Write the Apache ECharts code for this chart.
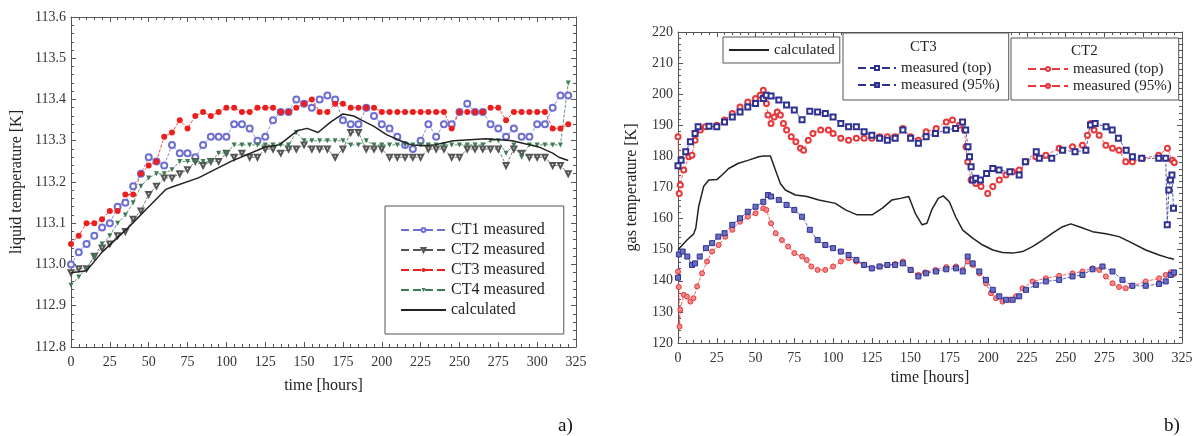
<!DOCTYPE html>
<html lang="en">
<head>
<meta charset="UTF-8">
<title>Liquid and gas temperature</title>
<script src="https://cdn.jsdelivr.net/npm/echarts@6.0.0/dist/echarts.min.js"></script>
<style>
  html, body { margin: 0; padding: 0; background: #fff; }
  #chart { width: 1196px; height: 436px; }
</style>
</head>
<body>
<div id="chart"></div>
<script>
// ---- panel a) liquid temperature, read every 5 hours ----
const hoursA = [0, 5, 10, 15, 20, 25, 30, 35, 40, 45,
  50, 55, 60, 65, 70, 75, 80, 85, 90, 95,
  100, 105, 110, 115, 120, 125, 130, 135, 140, 145,
  150, 155, 160, 165, 170, 175, 180, 185, 190, 195,
  200, 205, 210, 215, 220, 225, 230, 235, 240, 245,
  250, 255, 260, 265, 270, 275, 280, 285, 290, 295,
  300, 305, 310, 315, 320];
const ct1Liquid = [113.00, 113.03, 113.05, 113.07, 113.09, 113.10, 113.14, 113.15, 113.19, 113.22,
  113.26, 113.25, 113.24, 113.29, 113.27, 113.27, 113.26, 113.29, 113.31, 113.31,
  113.31, 113.34, 113.34, 113.33, 113.30, 113.31, 113.35, 113.37, 113.37, 113.40,
  113.39, 113.38, 113.40, 113.41, 113.40, 113.35, 113.34, 113.34, 113.38, 113.36,
  113.34, 113.33, 113.31, 113.29, 113.28, 113.30, 113.34, 113.31, 113.34, 113.34,
  113.37, 113.39, 113.37, 113.37, 113.34, 113.33, 113.31, 113.33, 113.31, 113.31,
  113.34, 113.34, 113.38, 113.41, 113.41];
const ct2Liquid = [112.98, 112.99, 112.99, 113.02, 113.04, 113.05, 113.07, 113.08, 113.11, 113.13,
  113.17, 113.19, 113.21, 113.21, 113.22, 113.23, 113.25, 113.24, 113.25, 113.25,
  113.27, 113.26, 113.27, 113.26, 113.26, 113.28, 113.28, 113.27, 113.28, 113.28,
  113.29, 113.28, 113.28, 113.28, 113.26, 113.28, 113.32, 113.32, 113.28, 113.28,
  113.28, 113.26, 113.26, 113.26, 113.26, 113.26, 113.28, 113.28, 113.28, 113.26,
  113.26, 113.28, 113.28, 113.28, 113.28, 113.28, 113.24, 113.28, 113.27, 113.26,
  113.26, 113.26, 113.24, 113.24, 113.22];
const ct3Liquid = [113.05, 113.07, 113.10, 113.10, 113.11, 113.13, 113.13, 113.17, 113.17, 113.22,
  113.24, 113.25, 113.31, 113.32, 113.35, 113.33, 113.36, 113.37, 113.36, 113.37,
  113.38, 113.38, 113.37, 113.37, 113.38, 113.38, 113.38, 113.37, 113.37, 113.38,
  113.39, 113.40, 113.37, 113.37, 113.39, 113.39, 113.38, 113.38, 113.38, 113.38,
  113.37, 113.37, 113.37, 113.37, 113.37, 113.37, 113.37, 113.37, 113.37, 113.33,
  113.37, 113.37, 113.37, 113.37, 113.38, 113.38, 113.35, 113.37, 113.37, 113.37,
  113.37, 113.37, 113.33, 113.33, 113.34];
const ct4Liquid = [112.95, 112.97, 112.99, 113.02, 113.05, 113.07, 113.10, 113.12, 113.15, 113.19,
  113.21, 113.22, 113.22, 113.23, 113.25, 113.25, 113.25, 113.25, 113.25, 113.27,
  113.27, 113.29, 113.29, 113.29, 113.29, 113.29, 113.29, 113.29, 113.29, 113.32,
  113.30, 113.30, 113.30, 113.30, 113.30, 113.30, 113.29, 113.29, 113.30, 113.29,
  113.29, 113.29, 113.29, 113.29, 113.29, 113.29, 113.29, 113.29, 113.29, 113.29,
  113.29, 113.29, 113.29, 113.29, 113.30, 113.30, 113.27, 113.29, 113.26, 113.29,
  113.29, 113.29, 113.29, 113.29, 113.44];
const calcLiquidHours = [0, 10, 20, 37, 50, 61, 65, 82, 103, 125,
  134, 146, 152, 159, 167, 175, 182, 187, 195, 203,
  212, 219, 226, 234, 246, 254, 267, 284, 301, 310,
  314, 320];
const calcLiquid = [112.98, 112.985, 113.03, 113.09, 113.14, 113.182, 113.188, 113.21, 113.25, 113.285,
  113.29, 113.325, 113.33, 113.32, 113.345, 113.365, 113.36, 113.35, 113.335, 113.315,
  113.30, 113.29, 113.288, 113.29, 113.30, 113.302, 113.305, 113.30, 113.285, 113.27,
  113.26, 113.252];

// ---- panel b) gas temperature ----
const calcGasHours = [0, 5.8, 10, 11.5, 13.3, 16.5, 19.8, 25.2, 28.4, 32.7,
  39, 45.6, 52, 55.3, 59.6, 62.8, 66, 69.2, 75.7, 83.2,
  90.8, 101.5, 108, 115.5, 125.2, 131.6, 138, 143.4, 148.8, 153,
  157.4, 160.5, 163.6, 167.8, 171, 175, 179, 183.6, 190, 196.5,
  203, 209.3, 215.8, 222.2, 228.6, 235.1, 241.5, 248, 253.3, 258.7,
  267.3, 275.9, 284.4, 293, 301.6, 310.2, 316.6, 319.8];
const calcGas = [150, 153.1, 155, 157, 163.8, 170.3, 172.4, 172.6, 174, 176.1,
  177.8, 178.8, 179.9, 180.1, 180.1, 175.6, 171.3, 169.2, 167.6, 167.1,
  166, 164.9, 162.8, 161.2, 161.2, 163.3, 166, 166.5, 167.1, 161.7,
  158, 158.5, 162.8, 166.5, 167.3, 165.4, 160.6, 156.3, 153.7, 151.5,
  149.9, 149.1, 148.9, 149.4, 151, 153.1, 155.3, 157.4, 158.3, 157.4,
  155.8, 155.1, 154.2, 152.1, 149.9, 148.3, 147.3, 146.9];

const ct3TopHours = [0, 2, 5, 8, 11, 13, 20, 25, 30, 35,
  40, 45, 50, 55, 57, 60, 65, 70, 75, 80,
  85, 90, 95, 100, 105, 110, 115, 120, 125, 130,
  135, 140, 145, 150, 155, 160, 166, 173, 179, 183.5,
  185.5, 187, 188, 189, 190, 192, 195, 199, 203, 207,
  214, 220, 224, 231, 233, 241, 248, 256, 263, 266,
  269, 276, 280, 284, 289, 293, 299, 310, 314.5, 315.5,
  316.5, 317.5, 318.5, 319.5];
const ct3TopGas = [177, 178.8, 181.5, 184.7, 187.4, 189.5, 189.7, 189.5, 191.1, 192.7,
  194.3, 195.9, 197, 198.6, 199.7, 199.4, 198.1, 196.5, 194.9, 191.8,
  194.5, 194.3, 193.8, 192.7, 190.6, 189.5, 189.5, 187.9, 186.8, 185.8,
  185.2, 185.8, 188.5, 185.8, 184.2, 186.3, 187.4, 188.5, 189, 191.1,
  188.5, 183.1, 179.9, 176.7, 172.4, 173, 172.4, 174.5, 176.1, 175.6,
  175.1, 174, 178.3, 181.5, 179.4, 179.4, 182, 181.5, 182, 190.1,
  190.6, 189.5, 188.5, 185.8, 182, 179.9, 179.4, 179.4, 179.4, 158,
  169.2, 172.4, 174, 163.3];

const ct3LowHours = [0, 0.6, 3, 6, 9, 11, 14, 18, 22, 26,
  30, 35, 40, 45, 50, 55, 58, 60, 65, 70,
  75, 80, 85, 90, 95, 100, 105, 110, 115, 120,
  125, 130, 135, 140, 145, 150, 155, 160, 166.4, 173,
  179.3, 183.6, 186.8, 190, 194.3, 198.6, 203, 207.2, 211.5, 215.8,
  220, 224.4, 230.8, 237.2, 245.8, 254.4, 260.8, 267.3, 273.7, 280.2,
  286.6, 293, 301.6, 310.2, 314.5, 317.7, 319.8];
const ct3LowGas = [141, 148.5, 149.4, 147.8, 145.1, 145.6, 147.8, 150.5, 152.1, 154.2,
  155.3, 158, 160.1, 162.2, 163.8, 165.4, 167.6, 167.1, 166, 164.4,
  162.8, 160.6, 156.4, 153.1, 151.5, 150.5, 149.4, 148.3, 146.7, 145.1,
  144, 144.6, 145.1, 145.1, 145.6, 143.5, 141.4, 142.4, 143, 143.7,
  144, 143, 147.8, 145.6, 143, 140.3, 137.1, 135, 133.9, 133.9,
  135, 137.1, 138.7, 139.8, 140.3, 141.4, 141.9, 143.7, 144.6, 143,
  140.3, 138.4, 138.4, 139, 139.8, 141.9, 142.7];

const ct2TopHours = [0, 0.8, 1.5, 3.7, 7, 9, 11, 14.4, 17.6, 25,
  30, 35, 40, 45, 50, 53, 55, 56, 57, 58,
  60, 62, 64, 66, 68, 70, 73, 76, 79, 81,
  84, 87, 92, 97, 100, 105, 110, 115, 120, 125,
  130, 135, 140, 145, 150, 155, 160, 166.5, 173, 177,
  181.4, 184.7, 185.7, 186.8, 189, 192, 195.4, 199.7, 203, 207.2,
  211.5, 215.8, 220, 224.4, 230.8, 237.2, 245.8, 254.4, 260.8, 264,
  266.2, 268.3, 271.6, 275.9, 280.2, 284.4, 288.7, 293, 299.5, 310,
  315.6, 318.8, 320];
const ct2TopGas = [186.3, 168.1, 170.8, 175.6, 179.9, 180.4, 185.2, 188.5, 189.5, 190,
  191.7, 193.8, 195.9, 197.5, 198.6, 199.7, 201.3, 199.2, 197, 193.3,
  190.6, 192.7, 194.3, 193.3, 190.6, 188.5, 186.3, 184.7, 182.6, 182,
  185.2, 187.4, 188.5, 188.5, 187.4, 185.8, 185.2, 185.8, 185.8, 185.8,
  186.3, 186.3, 186.3, 189, 186.3, 185.2, 187.9, 189, 191.1, 191.7,
  190, 188.5, 183.1, 178.3, 172.4, 171.3, 170.3, 168.1, 170.3, 172.4,
  174, 175.1, 175.6, 178.3, 179.9, 180.4, 182.6, 183.1, 183.6, 186.8,
  190.6, 188.5, 186.8, 183.6, 182.6, 182, 178.3, 178.3, 179.4, 180.4,
  182.6, 178.8, 178];

const ct2LowHours = [0, 0.5, 1, 1.5, 3.7, 5.8, 8, 10, 12.3, 15.5,
  18.7, 22, 26.2, 30.5, 35, 40, 45, 50, 55, 57,
  60, 63, 67, 71, 75, 80, 83, 86, 90, 95,
  100, 105, 110, 115, 120, 125, 130, 135, 140, 145,
  150, 155, 159.3, 166, 173, 179.3, 183.6, 186.8, 190, 194.3,
  198.6, 201.8, 205, 209.3, 213.6, 217.9, 222.2, 228.6, 237.2, 245.8,
  254.4, 260.8, 267.3, 271.6, 275.9, 280.2, 284.4, 288.7, 293, 301.6,
  310.2, 314.5, 317.7, 319.8];
const ct2LowGas = [143, 138, 125.3, 130.7, 135.5, 134.9, 133.3, 134.4, 138.2, 142.4,
  146.2, 149.4, 151.5, 154.2, 156.4, 159, 160.6, 161.7, 163.3, 162.8,
  158.5, 155.3, 153.1, 151, 148.9, 147.8, 146.7, 144.6, 143.5, 143.5,
  144.6, 146.2, 147.3, 146.2, 145.1, 144, 144.6, 145.1, 145.4, 146.2,
  143.5, 141.9, 142.7, 143.5, 144.4, 144.6, 143.5, 146.2, 145.1, 142.4,
  139.2, 136, 134.4, 133.3, 133.9, 135, 137.6, 139.8, 140.8, 141.6,
  142.4, 143, 144, 143.5, 141.4, 139.2, 138, 137.6, 138.4, 139.8,
  140.8, 141.9, 142.7, 142.2];

const FONT = '"Liberation Serif", "Times New Roman", serif';
const pairs = (xs, ys) => xs.map((x, i) => [x, ys[i]]);

// one axis of a boxed frame; labels only on bottom / left
function axis(gridIndex, position, min, max, interval, opts) {
  const labelled = position === 'bottom' || position === 'left';
  return Object.assign({
    type: 'value', gridIndex, position, min, max, interval,
    nameTextStyle: { fontFamily: FONT, fontSize: 16, color: '#222' },
    nameMoveOverlap: false,
    axisLine: { show: true, onZero: false, lineStyle: { color: '#555', width: 1 } },
    axisTick: { show: true, inside: true, length: 5, lineStyle: { color: '#555' } },
    minorTick: { show: true, splitNumber: 5, length: 3, lineStyle: { color: '#555' } },
    splitLine: { show: false },
    axisLabel: { show: labelled, fontFamily: FONT, fontSize: 14, color: '#333',
      margin: position === 'left' ? 5 : 8, hideOverlap: false }
  }, opts || {});
}

function measured(name, xi, data, symbol, color, extra) {
  return Object.assign({
    name, type: 'line', xAxisIndex: xi, yAxisIndex: xi, data,
    symbol, symbolSize: 5,
    lineStyle: { type: 'dashed', width: 0.8, color },
    itemStyle: { color },
    emphasis: { disabled: true }
  }, extra || {});
}

const legendText = { fontFamily: FONT, fontSize: 16, color: '#222', lineHeight: 16 };
// the calculated curves have no marker in the legend either
const lineOnly = name => ({ name, itemStyle: { opacity: 0 } });

const chart = echarts.init(document.getElementById('chart'));
chart.setOption({
  animation: false,
  backgroundColor: '#fff',
  grid: [
    { left: 71, top: 17, width: 505, height: 330, containLabel: false, outerBoundsMode: 'none' },
    { left: 678, top: 32, width: 504, height: 311, containLabel: false, outerBoundsMode: 'none' }
  ],
  xAxis: [
    axis(0, 'bottom', 0, 325, 25, { name: 'time [hours]', nameLocation: 'middle', nameGap: 31 }),
    axis(0, 'top', 0, 325, 25),
    axis(1, 'bottom', 0, 325, 25, { name: 'time [hours]', nameLocation: 'middle', nameGap: 27 }),
    axis(1, 'top', 0, 325, 25)
  ],
  yAxis: [
    axis(0, 'left', 112.8, 113.6, 0.1, { name: 'liquid temperature [K]', nameLocation: 'middle', nameGap: 46,
      axisLabel: { fontFamily: FONT, fontSize: 14, color: '#333', margin: 5, formatter: v => v.toFixed(1) } }),
    axis(0, 'right', 112.8, 113.6, 0.1),
    axis(1, 'left', 120, 220, 10, { name: 'gas temperature [K]', nameLocation: 'middle', nameGap: 38 }),
    axis(1, 'right', 120, 220, 10)
  ],
  legend: [
    {
      data: ['CT1 measured', 'CT2 measured', 'CT3 measured', 'CT4 measured', lineOnly('calculated')],
      orient: 'vertical', left: 385, top: 206, padding: [16, 19, 16, 15],
      itemWidth: 45, itemHeight: 5, itemGap: 4, selectedMode: false,
      borderColor: '#555', borderWidth: 1, backgroundColor: '#fff',
      textStyle: legendText
    },
    {
      data: [lineOnly('gas calculated')], formatter: () => 'calculated',
      orient: 'vertical', left: 723, top: 37, padding: [5, 5, 5, 5],
      itemWidth: 40, itemHeight: 5, selectedMode: false,
      borderColor: '#555', borderWidth: 1, backgroundColor: '#fff',
      textStyle: Object.assign({}, legendText, { fontSize: 15 })
    },
    {
      data: ['CT3 measured (top)', 'CT3 measured (95%)'], formatter: n => n.slice(4),
      orient: 'vertical', left: 843, top: 33, padding: [27, 9, 7, 14],
      itemWidth: 38, itemHeight: 5, itemGap: 1, selectedMode: false,
      borderColor: '#555', borderWidth: 1, backgroundColor: '#fff',
      textStyle: Object.assign({}, legendText, { fontSize: 15 })
    },
    {
      data: ['CT2 measured (top)', 'CT2 measured (95%)'], formatter: n => n.slice(4),
      orient: 'vertical', left: 1011, top: 38, padding: [23, 7, 6, 16],
      itemWidth: 40, itemHeight: 5, itemGap: 1, selectedMode: false,
      borderColor: '#555', borderWidth: 1, backgroundColor: '#fff',
      textStyle: Object.assign({}, legendText, { fontSize: 15 })
    }
  ],
  graphic: [
    { type: 'text', left: 910, top: 40, z: 100, style: { text: 'CT3', font: '15px ' + FONT, fill: '#222' } },
    { type: 'text', left: 1071, top: 44, z: 100, style: { text: 'CT2', font: '15px ' + FONT, fill: '#222' } },
    { type: 'text', left: 558, top: 417, style: { text: 'a)', font: '19px ' + FONT, fill: '#111' } },
    { type: 'text', left: 1164, top: 417, style: { text: 'b)', font: '19px ' + FONT, fill: '#111' } }
  ],
  series: [
    measured('CT1 measured', 0, pairs(hoursA, ct1Liquid), 'emptyCircle', '#6e6ed2', { symbolSize: 6 }),
    measured('CT2 measured', 0, pairs(hoursA, ct2Liquid), 'emptyTriangle', '#555555', { symbolRotate: 180 }),
    measured('CT4 measured', 0, pairs(hoursA, ct4Liquid), 'triangle', '#3d7a52', { symbolRotate: 180 }),
    measured('CT3 measured', 0, pairs(hoursA, ct3Liquid), 'circle', '#ec1f1f', { symbolSize: 6 }),
    {
      name: 'calculated', type: 'line', xAxisIndex: 0, yAxisIndex: 0,
      data: pairs(calcLiquidHours, calcLiquid), symbol: 'none', z: 5,
      lineStyle: { color: '#222', width: 1.5 }, itemStyle: { color: '#222' }
    },
    {
      name: 'gas calculated', type: 'line', xAxisIndex: 2, yAxisIndex: 2,
      data: pairs(calcGasHours, calcGas), symbol: 'none', z: 5,
      lineStyle: { color: '#222', width: 1.5 }, itemStyle: { color: '#222' }
    },
    measured('CT2 measured (top)', 2, pairs(ct2TopHours, ct2TopGas), 'emptyCircle', '#e8373a'),
    measured('CT2 measured (95%)', 2, pairs(ct2LowHours, ct2LowGas), 'circle', '#e8373a',
      { itemStyle: { color: '#f28a8a', borderColor: '#e8373a', borderWidth: 1 } }),
    measured('CT3 measured (top)', 2, pairs(ct3TopHours, ct3TopGas), 'emptyRect', '#2e3192'),
    measured('CT3 measured (95%)', 2, pairs(ct3LowHours, ct3LowGas), 'rect', '#2e3192',
      { itemStyle: { color: '#6a6fc4', borderColor: '#2e3192', borderWidth: 1 } })
  ]
});
</script>
</body>
</html>
